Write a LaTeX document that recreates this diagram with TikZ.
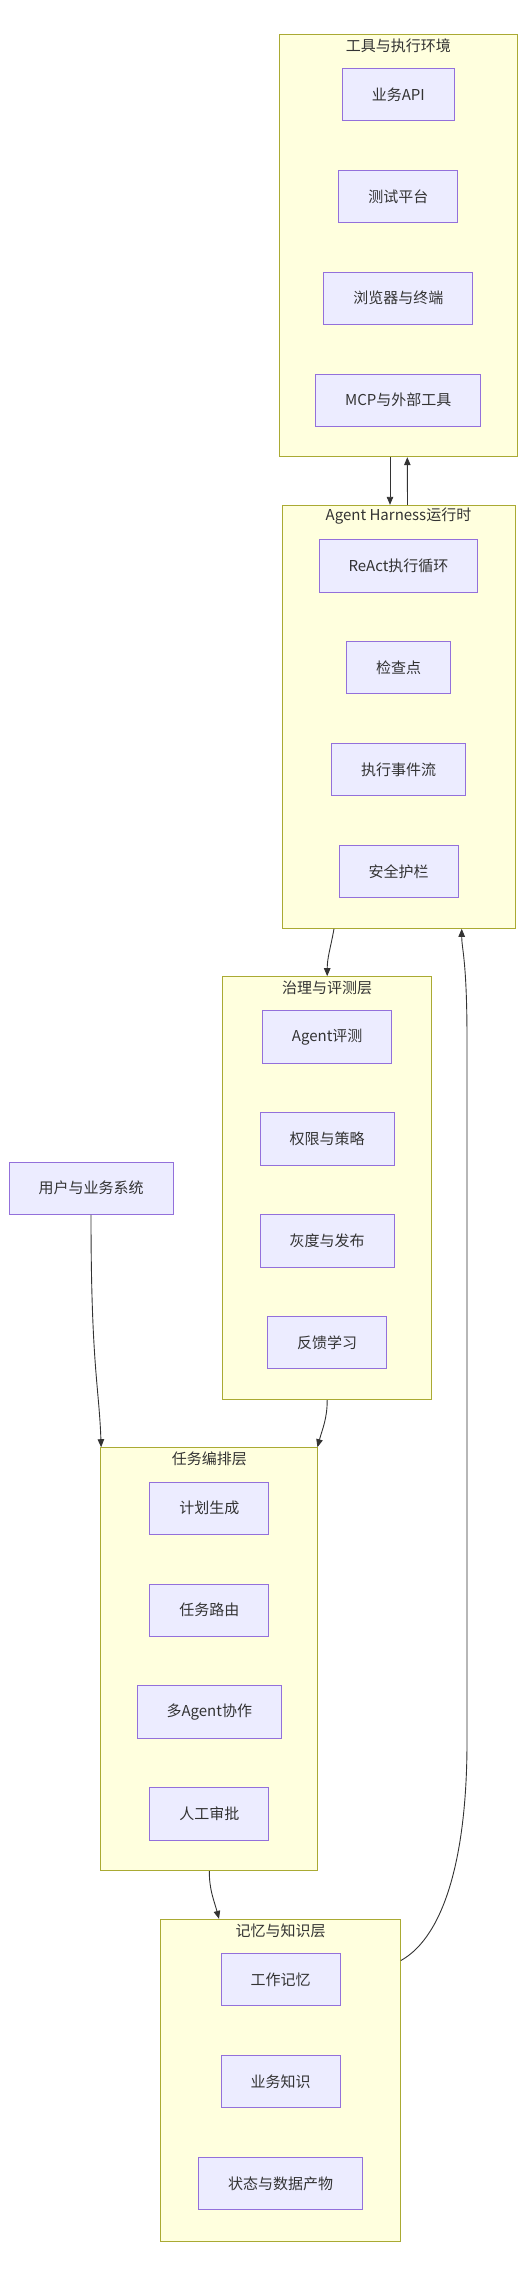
\documentclass[tikz,border=0pt]{standalone}
\usepackage{fontspec}
\newfontfamily\cjk{Noto Sans CJK SC}
\usetikzlibrary{arrows.meta}
\usetikzlibrary{positioning}
\definecolor{layerfill}{HTML}{FFFFDE}
\definecolor{layerline}{HTML}{AAAA33}
\definecolor{boxfill}{HTML}{ECECFF}
\definecolor{boxline}{HTML}{9370DB}
\definecolor{ink}{HTML}{333333}

\begin{document}
\begin{tikzpicture}[x=1pt,y=1pt]
% 1 px = 1pt, y runs downwards
    \def\GAP{48.5pt} % space between two boxes of a layer
    \def\TITLEDROP{-11.5pt} % title below the top edge of a layer

    \tikzset{
      layer/.style={draw=layerline, fill=layerfill, line width=1pt, inner sep=0pt},
      laytitle/.style={font=\cjk\fontsize{15}{18}\selectfont, text=ink, inner sep=0pt},
      item/.style={draw=boxline, fill=boxfill, line width=1pt,
        font=\cjk\fontsize{15}{18}\selectfont, text=ink,
        inner xsep=29.5pt, inner ysep=0pt, minimum height=52.4pt},
      flow/.style={-{Triangle[width=6.5pt,length=8pt]}, draw=ink, line width=0.9pt},
    }

    \useasboundingbox (0,0) rectangle (525,-2276);

    % TOOLS layer
    \node[layer, minimum width=238pt, minimum height=422.4pt] (tools) at (398.3,-245.5) {};
    \node[laytitle] at ([yshift=\TITLEDROP]tools.north) {工具与执行环境};
    \node[item] (api) at (398.3,-94.5) {业务API};
    \node[item, below=\GAP of api] (testbed) {测试平台};
    \node[item, below=\GAP of testbed] (browser) {浏览器与终端};
    \node[item, below=\GAP of browser] (mcp) {MCP与外部工具};

    % HARNESS layer
    \node[layer, minimum width=233pt, minimum height=423pt] (harness) at (398.5,-716.8) {};
    \node[laytitle] at ([yshift=\TITLEDROP]harness.north) {Agent Harness运行时};
    \node[item] (react) at (398.5,-565.8) {ReAct执行循环};
    \node[item, below=\GAP of react] (checkpoint) {检查点};
    \node[item, below=\GAP of checkpoint] (events) {执行事件流};
    \node[item, below=\GAP of events] (guard) {安全护栏};

    % GOVERNANCE layer
    \node[layer, minimum width=209pt, minimum height=423pt] (gov) at (327.2,-1188.2) {};
    \node[laytitle] at ([yshift=\TITLEDROP]gov.north) {治理与评测层};
    \node[item] (evalbox) at (327.2,-1037) {Agent评测};
    \node[item, below=\GAP of evalbox] (policy) {权限与策略};
    \node[item, below=\GAP of policy] (release) {灰度与发布};
    \node[item, below=\GAP of release] (feedback) {反馈学习};

    % USERS
    \node[item] (user) at (91,-1188.2) {用户与业务系统};

    % TASK layer
    \node[layer, minimum width=217.3pt, minimum height=423pt] (task) at (209.3,-1659.2) {};
    \node[laytitle] at ([yshift=\TITLEDROP]task.north) {任务编排层};
    \node[item] (plan) at (209.3,-1508.3) {计划生成};
    \node[item, below=\GAP of plan] (route) {任务路由};
    \node[item, below=\GAP of route] (multi) {多Agent协作};
    \node[item, below=\GAP of multi] (approve) {人工审批};

    % MEMORY layer
    \node[layer, minimum width=239.6pt, minimum height=321.7pt] (mem) at (280.5,-2080.2) {};
    \node[laytitle] at ([yshift=\TITLEDROP]mem.north) {记忆与知识层};
    \node[item] (workmem) at (280.5,-1979.5) {工作记忆};
    \node[item, below=\GAP of workmem] (knowledge) {业务知识};
    \node[item, below=\GAP of knowledge] (artifacts) {状态与数据产物};

    % CONNECTORS
    \draw[flow] ([xshift=-8.3pt]tools.south) -- ([xshift=-8.5pt]harness.north);
    \draw[flow] ([xshift=9pt]harness.north) -- ([xshift=9pt]tools.south);
    \draw[flow] ([xshift=-64.5pt]harness.south) to[out=-100,in=90] (gov.north);
    \draw[flow] (user.south) .. controls +(0,-150) and +(-2,60) .. ([xshift=1pt]task.north west);
    \draw[flow] (gov.south) to[out=-90,in=75] ([xshift=-1pt]task.north east);
    \draw[flow] (task.south) to[out=-90,in=105] ([xshift=-61.5pt]mem.north);

    % long way back up on the right
    \coordinate (railbot) at (467,-1742);
    \coordinate (railtop) at (467,-1040);
    \draw[flow] ([yshift=-41.7pt]mem.north east) .. controls +(45,25) and +(0,-110) .. (railbot)
        -- (railtop) .. controls +(0,80) and +(0,-20) .. ([xshift=63.2pt]harness.south);

\end{tikzpicture}
\end{document}
